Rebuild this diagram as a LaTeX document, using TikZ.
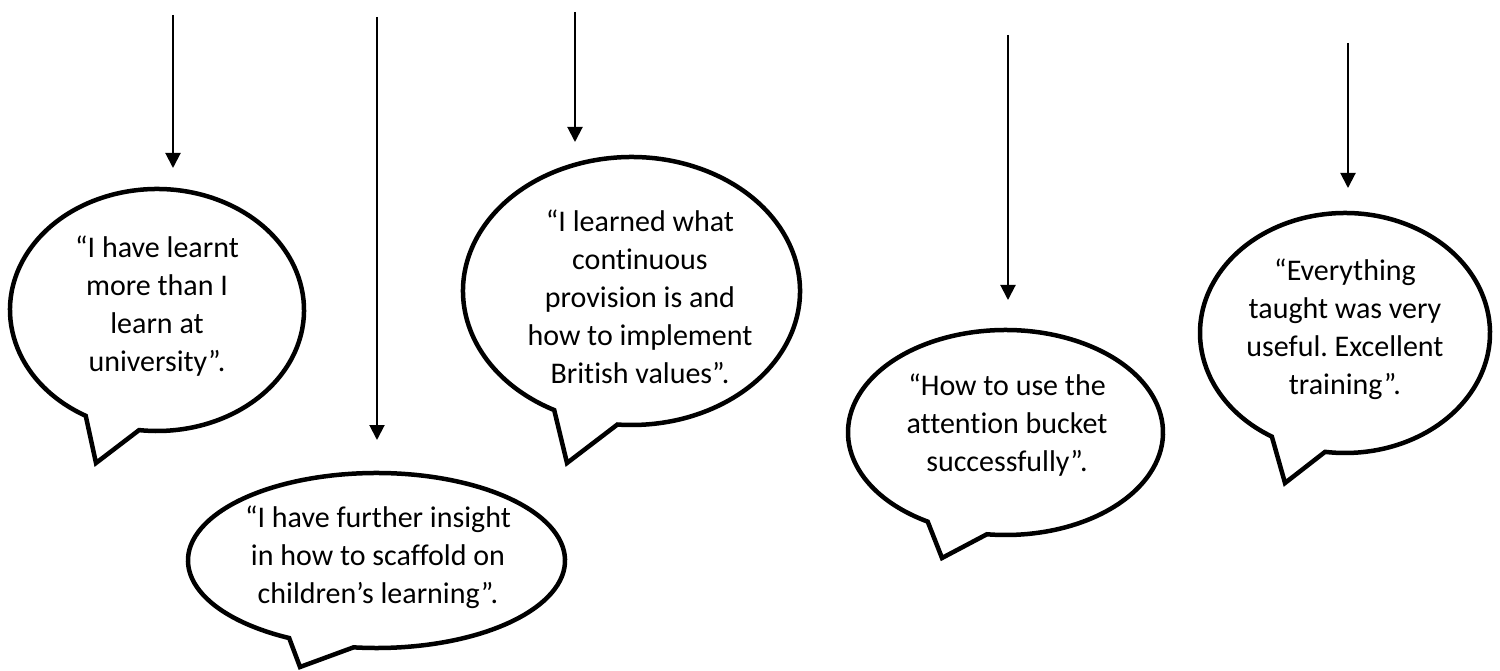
\documentclass[tikz,border=0pt]{standalone}
\usepackage{fontspec}
\setmainfont{Carlito}[RawFeature={-liga;-clig;-dlig}]
\usetikzlibrary{arrows.meta}
\frenchspacing
\newcommand{\speechbubble}[8]{% cx cy a b tL tR tipx tipy
  \draw[bubbleline] ({#1+#3*cos(#5)},{#2+#4*sin(#5)})
    arc[start angle=#5, end angle=#6+360, x radius=#3, y radius=#4]
    -- (#7,#8) -- cycle;
}
\begin{document}
\begin{tikzpicture}[x=1pt,y=-1pt,
  bubbleline/.style={line width=4.5pt, line join=miter, miter limit=10, fill=white, draw=black},
  quote/.style={align=center, font=\fontsize{30}{38}\selectfont, inner sep=0pt},
  arr/.style={line width=2pt, -{Triangle[length=15pt,width=15pt]}}]
\useasboundingbox[fill=white] (0,0) rectangle (1500,671);

% speech bubbles
\speechbubble{157}{310}{147}{121}{119}{97}{96}{463}
\speechbubble{376.5}{560.5}{188.5}{87.5}{117.6}{97}{300}{667}
\speechbubble{631.5}{291}{168.5}{134}{117.3}{94.8}{567}{463}
\speechbubble{1005.5}{432.5}{157.5}{102.5}{119.6}{96.8}{942}{558}
\speechbubble{1345}{333}{145}{120}{120.3}{97.9}{1285}{483}

% texts
\node[quote] (b1) at (157,306) {“I have learnt\\more than I\\learn at\\university”.};
\node[quote] (b2) at (378,557) {“I have further insight\\in how to scaffold on\\children’s learning”.};
\node[quote] (b3) at (640,297) {“I learned what\\continuous\\provision is and\\how to implement\\British values”.};
\node[quote] (b4) at (1007,425) {“How to use the\\attention bucket\\successfully”.};
\node[quote] (b5) at (1345,329) {“Everything\\taught was very\\useful. Excellent\\training”.};

% arrows
\coordinate (a1s) at (173,15);   \coordinate (a1e) at (173,168);
\coordinate (a2s) at (377,17);   \coordinate (a2e) at (377,440);
\coordinate (a3s) at (575,12);   \coordinate (a3e) at (575,142);
\coordinate (a4s) at (1008,35);  \coordinate (a4e) at (1008,300);
\coordinate (a5s) at (1348,43);  \coordinate (a5e) at (1348,188);
\draw[arr] (a1s) -- (a1e);
\draw[arr] (a2s) -- (a2e);
\draw[arr] (a3s) -- (a3e);
\draw[arr] (a4s) -- (a4e);
\draw[arr] (a5s) -- (a5e);
\end{tikzpicture}
\end{document}
